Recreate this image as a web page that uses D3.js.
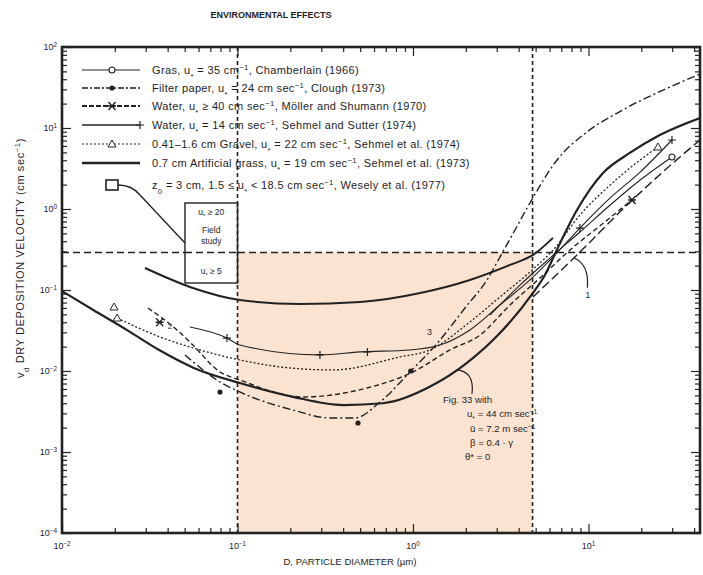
<!DOCTYPE html>
<html><head><meta charset="utf-8">
<script src="https://cdn.jsdelivr.net/npm/d3@7"></script>
<style>
body{margin:0;background:#fff}
svg{display:block}
text{font-family:"Liberation Sans",Arial,sans-serif;fill:#1e1e1e}
</style>
</head><body>
<svg id="c" width="703" height="575"></svg>
<script>
// ---------- data ----------
const title = "ENVIRONMENTAL EFFECTS";
const xLabel = "D, PARTICLE DIAMETER (µm)";
const yLabel = "v_{d} DRY DEPOSITION VELOCITY (cm sec^{−1})";
const xTickValues = [0.01, 0.1, 1, 10];
const xTickExps = ["−2", "−1", "0", "1"];
const yTickValues = [1e-4, 1e-3, 1e-2, 1e-1, 1, 10, 100];
const yTickExps = ["−4", "−3", "−2", "−1", "0", "1", "2"];

// reference lines (D in µm, v in cm/s)
const refD = [0.1, 4.8];
const refV = 0.29;

// theoretical curve, Fig. 33
const fig33 = [[0.01,0.097],[0.015,0.057],[0.0235,0.032],[0.036,0.018],[0.056,0.011],[0.103,0.0071],[0.207,0.0048],[0.40,0.0038],[0.675,0.0040],[1.30,0.0067],[2.03,0.0126],[3.13,0.0294],[4.83,0.092],[5.65,0.153],[6.6,0.312],[8.6,0.97],[12.1,2.78],[17.2,4.92],[25.5,8.2],[43.2,13.3]];
// 0.7 cm artificial grass, Sehmel et al. (1973)
const artGrass = [[0.0297,0.187],[0.0557,0.106],[0.103,0.0753],[0.227,0.0672],[0.499,0.0711],[1.10,0.0919],[2.11,0.133],[3.57,0.204],[4.83,0.271],[6.28,0.44]];
// Filter paper, Clough (1973)
const clough = [[0.0502,0.0158],[0.0795,0.00732],[0.103,0.00551],[0.207,0.0033],[0.337,0.00263],[0.467,0.00263],[0.649,0.00414],[0.961,0.00972],[1.425,0.0241],[1.978,0.060],[2.64,0.133],[3.13,0.255],[3.81,0.55],[4.64,1.186],[6.62,4.03],[9.81,8.93],[15.7,16.7],[29.1,32.1],[43.2,46.4]];
const cloughPts = [[0.0795,0.0055],[0.486,0.00228],[0.97,0.0100]];
// Water, Möller and Shumann (1970)
const moller = [[0.0309,0.060],[0.0452,0.0321],[0.0557,0.0209],[0.0795,0.00972],[0.103,0.00775],[0.236,0.00478],[0.547,0.00617],[1.0,0.00972],[1.625,0.0182],[2.41,0.0278],[3.57,0.0653],[5.29,0.1406],[7.85,0.312],[11.6,0.617],[17.7,1.29]];
const mollerPts = [[0.036,0.040],[17.7,1.29]];
// Water, Sehmel and Sutter (1974)
const sutter = [[0.0536,0.0349],[0.0871,0.0255],[0.103,0.0209],[0.295,0.0158],[0.499,0.0172],[0.961,0.0182],[1.425,0.0209],[2.11,0.0321],[3.13,0.0653],[4.64,0.133],[6.44,0.271],[8.94,0.582],[13.3,1.37],[19.7,2.86],[29.9,7.11]];
const sutterPts = [[0.0871,0.0255],[0.295,0.0158],[0.55,0.0172],[8.94,0.582],[29.9,7.11]];
// 0.41-1.6 cm gravel, Sehmel et al. (1974)
const gravel = [[0.0206,0.0451],[0.0362,0.0263],[0.0611,0.0182],[0.103,0.0137],[0.199,0.0109],[0.350,0.0103],[0.843,0.0149],[1.25,0.0182],[2.11,0.0403],[3.13,0.082],[4.64,0.167],[6.44,0.33],[8.94,0.843],[13.3,1.98],[19.7,4.03],[24.9,5.83]];
const gravelPts = [[0.0198,0.0617],[0.0206,0.0451],[24.9,5.83]];
// Grass, Chamberlain (1966)
const chamberlain = [[2.75,0.0491],[4.07,0.115],[6.03,0.248],[8.94,0.52],[13.3,1.12],[19.7,2.28],[29.9,4.39]];
const chamberlainPts = [[29.9,4.39]];
// curve 1
const curve1 = [[4.83,0.082],[8.60,0.271],[16.6,1.12],[27.3,3.03],[43.2,7.11]];
// Wesely et al. (1977) field-study box
const weselyD = [0.0502, 0.1];
const weselyV = [0.122, 1.186];

const legendLabels = [
  "Gras, u_{*} = 35 cm^{−1}, Chamberlain (1966)",
  "Filter paper, u_{*} = 24 cm sec^{−1}, Clough (1973)",
  "Water, u_{*} ≥ 40 cm sec^{−1}, Möller and Shumann (1970)",
  "Water, u_{*} = 14 cm sec^{−1}, Sehmel and Sutter (1974)",
  "0.41–1.6 cm Gravel, u_{*} = 22 cm sec^{−1}, Sehmel et al. (1974)",
  "0.7 cm Artificial grass, u_{*} = 19 cm sec^{−1}, Sehmel et al. (1973)",
  "z_{0} = 3 cm, 1.5 ≤ u_{*} < 18.5 cm sec^{−1}, Wesely et al. (1977)"
];
const fig33Notes = ["Fig. 33 with", "u_{*} = 44 cm sec^{−1}", "ū = 7.2 m sec^{−1}", "β = 0.4 · γ", "θ* = 0"];

// ---------- drawing ----------
const svg = d3.select("#c");
const L = 62, R = 700, T = 47, B = 533;
const x = d3.scaleLog().domain([0.01, 43.2]).range([L, R]);
const y = d3.scaleLog().domain([1e-4, 1e2]).range([B, T]);
const ink = "#222";

function rich(sel, str) {
  const parts = str.split(/(\^\{[^}]*\}|_\{[^}]*\})/);
  parts.forEach(p => {
    if (!p) return;
    if (p.startsWith("^{")) sel.append("tspan").attr("baseline-shift", "super").attr("font-size", "70%").text(p.slice(2, -1));
    else if (p.startsWith("_{")) sel.append("tspan").attr("baseline-shift", "sub").attr("font-size", "70%").text(p.slice(2, -1));
    else sel.append("tspan").text(p);
  });
  return sel;
}

// title
svg.append("text").attr("x", 271).attr("y", 18).attr("text-anchor", "middle")
  .attr("font-size", 9).attr("font-weight", "bold").text(title);

// shaded region
svg.append("rect")
  .attr("x", x(refD[0])).attr("y", y(refV))
  .attr("width", x(refD[1]) - x(refD[0])).attr("height", y(1e-4) - y(refV))
  .attr("fill", "#fbe3d1");

// reference dashed lines
svg.append("line").attr("x1", L).attr("x2", R).attr("y1", y(refV)).attr("y2", y(refV))
  .attr("stroke", ink).attr("stroke-width", 1.5).attr("stroke-dasharray", "7,4");
refD.forEach(d => {
  svg.append("line").attr("x1", x(d)).attr("x2", x(d)).attr("y1", T).attr("y2", B)
    .attr("stroke", ink).attr("stroke-width", 1.6).attr("stroke-dasharray", "4,3");
});

// axes ticks (inward)
function minorTicks(lo, hi) {
  const out = [];
  for (let e = Math.floor(Math.log10(lo)); e <= Math.ceil(Math.log10(hi)); e++)
    for (let m = 2; m <= 9; m++) { const v = m * Math.pow(10, e); if (v > lo && v < hi) out.push(v); }
  return out;
}
const xMinor = minorTicks(0.01, 43.2), yMinor = minorTicks(1e-4, 1e2);
const xMajor = xTickValues;
function axisG(axis, tr) {
  const g = svg.append("g").attr("transform", tr).call(axis);
  g.select(".domain").remove();
  g.selectAll("line").attr("stroke", ink).attr("stroke-width", 1.2);
  g.selectAll("text").remove();
}
axisG(d3.axisBottom(x).tickValues(xMajor).tickSize(-9), `translate(0,${B})`);
axisG(d3.axisBottom(x).tickValues(xMinor).tickSize(-5), `translate(0,${B})`);
axisG(d3.axisTop(x).tickValues(xMajor).tickSize(-9), `translate(0,${T})`);
axisG(d3.axisTop(x).tickValues(xMinor).tickSize(-5), `translate(0,${T})`);
axisG(d3.axisLeft(y).tickValues(yTickValues).tickSize(-9), `translate(${L},0)`);
axisG(d3.axisLeft(y).tickValues(yMinor).tickSize(-5), `translate(${L},0)`);
axisG(d3.axisRight(y).tickValues(yTickValues).tickSize(-9), `translate(${R},0)`);
axisG(d3.axisRight(y).tickValues(yMinor).tickSize(-5), `translate(${R},0)`);

// tick labels
xTickValues.forEach((v, i) => {
  rich(svg.append("text").attr("x", x(v)).attr("y", 549).attr("text-anchor", "middle").attr("font-size", 9), "10^{" + xTickExps[i] + "}");
});
yTickValues.forEach((v, i) => {
  rich(svg.append("text").attr("x", 57).attr("y", y(v) + 3).attr("text-anchor", "end").attr("font-size", 9), "10^{" + yTickExps[i] + "}");
});
svg.append("text").attr("x", 350).attr("y", 565).attr("text-anchor", "middle").attr("font-size", 9.6).text(xLabel);
rich(svg.append("text").attr("transform", "translate(24,258) rotate(-90)").attr("text-anchor", "middle")
  .attr("font-size", 11).attr("letter-spacing", 0.6), yLabel);

// clip
svg.append("clipPath").attr("id", "clip").append("rect").attr("x", L).attr("y", T).attr("width", R - L).attr("height", B - T);
const plot = svg.append("g").attr("clip-path", "url(#clip)");
const line = d3.line().x(d => x(d[0])).y(d => y(d[1])).curve(d3.curveMonotoneX);

const series = [
  {d: fig33, w: 2.2, dash: null},
  {d: artGrass, w: 2.0, dash: null},
  {d: clough, w: 1.4, dash: "8,3,2,3"},
  {d: moller, w: 1.4, dash: "5,3"},
  {d: sutter, w: 1.1, dash: null},
  {d: gravel, w: 1.3, dash: "2,2"},
  {d: chamberlain, w: 1.1, dash: null},
  {d: curve1, w: 1.4, dash: "9,4"}
];
series.forEach(s => {
  plot.append("path").attr("d", line(s.d)).attr("fill", "none").attr("stroke", ink)
    .attr("stroke-width", s.w).attr("stroke-dasharray", s.dash);
});

// markers
function marker(g, kind, px, py) {
  if (kind === "circle") g.append("circle").attr("cx", px).attr("cy", py).attr("r", 3).attr("fill", "#fff").attr("stroke", ink).attr("stroke-width", 1.1);
  if (kind === "dot") g.append("circle").attr("cx", px).attr("cy", py).attr("r", 2.6).attr("fill", ink);
  if (kind === "x") g.append("path").attr("d", `M${px-3.5},${py-4}L${px+3.5},${py+4}M${px+3.5},${py-4}L${px-3.5},${py+4}M${px-4},${py}L${px+4},${py}`).attr("stroke", ink).attr("stroke-width", 1.4);
  if (kind === "plus") g.append("path").attr("d", `M${px-4},${py}L${px+4},${py}M${px},${py-4}L${px},${py+4}`).attr("stroke", ink).attr("stroke-width", 1.2);
  if (kind === "tri") g.append("path").attr("d", `M${px},${py-4}L${px+4},${py+3}L${px-4},${py+3}Z`).attr("fill", "#fff").attr("stroke", ink).attr("stroke-width", 1);
  if (kind === "square") g.append("rect").attr("x", px - 6).attr("y", py - 5).attr("width", 12).attr("height", 10).attr("fill", "#fff").attr("stroke", ink).attr("stroke-width", 1.6);
}
cloughPts.forEach(p => marker(plot, "dot", x(p[0]), y(p[1])));
mollerPts.forEach(p => marker(plot, "x", x(p[0]), y(p[1])));
sutterPts.forEach(p => marker(plot, "plus", x(p[0]), y(p[1])));
gravelPts.forEach(p => marker(plot, "tri", x(p[0]), y(p[1])));
chamberlainPts.forEach(p => marker(plot, "circle", x(p[0]), y(p[1])));

// Wesely box
const bx0 = x(weselyD[0]), bx1 = x(weselyD[1]), by0 = y(weselyV[1]), by1 = y(weselyV[0]);
svg.append("rect").attr("x", bx0).attr("y", by0).attr("width", bx1 - bx0).attr("height", by1 - by0)
  .attr("fill", "#fff").attr("stroke", ink).attr("stroke-width", 1.4);
svg.append("line").attr("x1", bx0).attr("x2", bx1).attr("y1", y(refV)).attr("y2", y(refV))
  .attr("stroke", ink).attr("stroke-width", 1.5).attr("stroke-dasharray", "7,4");
svg.append("line").attr("x1", bx1).attr("x2", bx1).attr("y1", by0).attr("y2", by1)
  .attr("stroke", ink).attr("stroke-width", 1.6).attr("stroke-dasharray", "4,3");
const bxm = (bx0 + bx1) / 2;
rich(svg.append("text").attr("x", bxm).attr("y", by0 + 12).attr("text-anchor", "middle").attr("font-size", 8.5), "u_{*} ≥ 20");
svg.append("text").attr("x", bxm).attr("y", by0 + 30).attr("text-anchor", "middle").attr("font-size", 8.5).text("Field");
svg.append("text").attr("x", bxm).attr("y", by0 + 41).attr("text-anchor", "middle").attr("font-size", 8.5).text("study");
rich(svg.append("text").attr("x", bxm).attr("y", by1 - 9).attr("text-anchor", "middle").attr("font-size", 8.5), "u_{*} ≥ 5");

// legend
const legX0 = 82, legX1 = 140, legTX = 152;
const legY = [70, 88, 106, 125, 144, 163, 185];
const legStyles = [
  {w: 1.2, dash: null, m: "circle"},
  {w: 1.3, dash: "6,2,2,2", m: "dot"},
  {w: 1.8, dash: "5,2", m: "x"},
  {w: 1.3, dash: null, m: "plus"},
  {w: 1.2, dash: "2,2", m: "tri"},
  {w: 2.4, dash: null, m: null},
  {w: 0, dash: null, m: "square"}
];
const leg = svg.append("g");
legendLabels.forEach((lab, i) => {
  const st = legStyles[i], yy = legY[i];
  if (st.w > 0) leg.append("line").attr("x1", legX0).attr("x2", legX1).attr("y1", yy).attr("y2", yy)
    .attr("stroke", ink).attr("stroke-width", st.w).attr("stroke-dasharray", st.dash);
  if (st.m) marker(leg, st.m, i === 3 ? legX1 : 112, yy);
  rich(leg.append("text").attr("x", legTX).attr("y", yy + 4).attr("font-size", 11).attr("letter-spacing", 0.35), lab);
});
// tail from square legend marker to the Wesely box
leg.append("path").attr("d", `M118,${legY[6]}Q132,${legY[6]} 140,${legY[6] + 10}L${bx0},${by1 - 40}`)
  .attr("fill", "none").attr("stroke", ink).attr("stroke-width", 1.3);

// Fig. 33 annotation
const noteX = [443, 467, 470, 470, 465];
const noteY = [403, 417, 432, 446, 460];
fig33Notes.forEach((t, i) => {
  rich(svg.append("text").attr("x", noteX[i]).attr("y", noteY[i]).attr("font-size", 9.6), t);
});
const ax = x(1.78), ay = y(0.0103);
svg.append("path").attr("d", `M${ax},${ay}Q${ax + 18},${ay + 2} ${ax + 15},${ay + 24}`)
  .attr("fill", "none").attr("stroke", ink).attr("stroke-width", 1.2);

// curve labels
svg.append("text").attr("x", x(1.2)).attr("y", y(0.0278)).attr("font-size", 9).text("3");
svg.append("text").attr("x", x(0.04)).attr("y", y(0.033)).attr("font-size", 8).text("2");
const c1x = x(8.2), c1y = y(0.25);
svg.append("path").attr("d", `M${c1x},${c1y}Q${c1x + 16},${c1y + 6} ${c1x + 14},${c1y + 30}`)
  .attr("fill", "none").attr("stroke", ink).attr("stroke-width", 1.2);
svg.append("text").attr("x", c1x + 12).attr("y", c1y + 40).attr("font-size", 9).text("1");

// frame
svg.append("rect").attr("x", L).attr("y", T).attr("width", R - L).attr("height", B - T)
  .attr("fill", "none").attr("stroke", ink).attr("stroke-width", 2.6);
</script>
</body></html>
